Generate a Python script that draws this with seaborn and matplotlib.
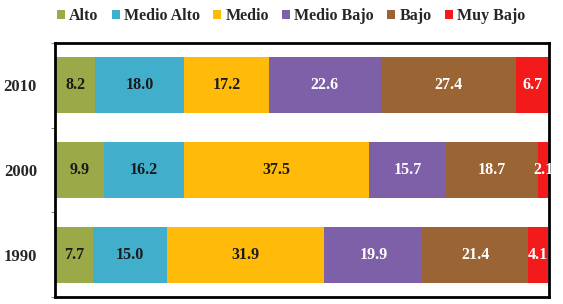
import matplotlib
matplotlib.use("Agg")
import matplotlib.pyplot as plt
import seaborn as sns
import pandas as pd
import numpy as np

years = ["2010", "2000", "1990"]
categories = ["Alto", "Medio Alto", "Medio", "Medio Bajo", "Bajo", "Muy Bajo"]
alto = [8.2, 9.9, 7.7]
medio_alto = [18.0, 16.2, 15.0]
medio = [17.2, 37.5, 31.9]
medio_bajo = [22.6, 15.7, 19.9]
bajo = [27.4, 18.7, 21.4]
muy_bajo = [6.7, 2.1, 4.1]

colors = ["#9BA948", "#41AECB", "#FFBA0A", "#7E60A8", "#9A6434", "#F21A1A"]
text_colors = ["#1a1a1a", "#1a1a1a", "#1a1a1a", "white", "white", "white"]

series = [alto, medio_alto, medio, medio_bajo, bajo, muy_bajo]
df = pd.DataFrame({c: v for c, v in zip(categories, series)})
df["year"] = years
cum = df[categories].cumsum(axis=1)

sns.set_theme(style="white")
plt.rcParams["font.family"] = ["Liberation Serif", "DejaVu Serif"]
plt.rcParams["font.weight"] = "bold"

fig = plt.figure(figsize=(5.63, 3.04), dpi=100)
ax = fig.add_axes([0.0977, 0.023, 0.877, 0.836])

for i in range(len(categories) - 1, -1, -1):
    c = categories[i]
    plot_df = pd.DataFrame({"year": years, "val": cum[c].values})
    sns.barplot(data=plot_df, x="val", y="year", orient="h", color=colors[i],
                width=0.66, ax=ax, label=c, saturation=1, linewidth=0)

for i, c in enumerate(categories):
    starts = cum[c].values - df[c].values
    for j, y in enumerate(years):
        v = df[c].values[j]
        ax.text(starts[j] + v / 2, j, f"{v:.1f}", ha="center", va="center",
                fontsize=11.5, fontweight="bold", color=text_colors[i])

ax.set_xlim(0, 100.1)
ax.set_ylim(2.5, -0.5)
ax.set_xlabel("")
ax.set_ylabel("")
ax.set_xticks([])
ax.set_yticks([0, 1, 2])
ax.set_yticklabels(years, fontsize=12, fontweight="bold")
ax.tick_params(axis="y", length=0, pad=13)
ax.set_yticks([-0.5, 0.5, 1.5, 2.5], minor=True)
ax.tick_params(axis="y", which="minor", length=3, width=0.8, color="#888888", left=True)
for s in ax.spines.values():
    s.set_visible(True)
    s.set_color("black")
    s.set_linewidth(2)

handles, labels = ax.get_legend_handles_labels()
order = [labels.index(c) for c in categories]
handles = [handles[k] for k in order]
labels = [labels[k] for k in order]
leg = fig.legend(handles, labels, loc="upper center", bbox_to_anchor=(0.517, 1.02),
                 ncol=6, frameon=False, handlelength=0.5, handleheight=0.5,
                 handletextpad=0.25, columnspacing=0.85, prop={"weight": "bold", "size": 11.5})
if ax.get_legend():
    ax.get_legend().remove()

fig.savefig("out.png", dpi=100)
